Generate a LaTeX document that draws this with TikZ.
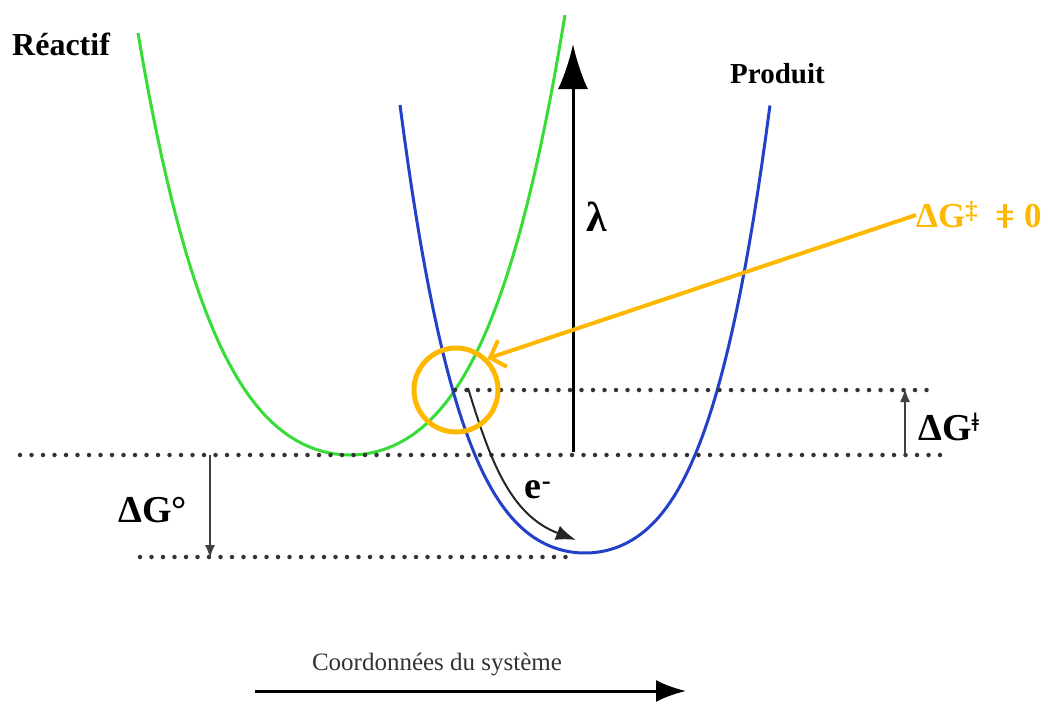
\documentclass[tikz,border=0pt]{standalone}
\usepackage{fontspec}
\setmainfont{Liberation Serif}
\usepackage{xcolor}
\usepackage{tikz}
\usetikzlibrary{arrows.meta,calc,positioning}

\definecolor{reactgreen}{RGB}{55,220,55}
\definecolor{prodblue}{RGB}{35,65,200}
\definecolor{barrorange}{RGB}{255,184,0}

% crossed equal sign, as printed
\newcommand{\barreq}{\ooalign{=\cr\hfil\rule{3.5pt}{24pt}\hfil\cr}}

\begin{document}
\begin{tikzpicture}[
    x=1pt, y=-1pt,
    lbl/.style={font=\fontsize{32}{36}\selectfont\bfseries, inner sep=0pt},
    biglbl/.style={font=\fontsize{38}{42}\selectfont\bfseries, inner sep=0pt},
    curve/.style={line width=3pt},
    level/.style={line width=4.5pt, line cap=round, dash pattern=on 0pt off 11.5pt, draw=black!80},
    thin arr/.style={-{Latex[length=13pt, width=10pt]}, line width=1.5pt, draw=black!75},
    big arr/.style={-{Latex[length=45pt, width=30pt]}, line width=3pt}
  ]
    \useasboundingbox (0,0) rectangle (1051,702);
    % energy curves
    \draw[curve, reactgreen] plot[domain=-2.12:2.15, samples=90]
      ({350+100*\x}, {455-47.6*\x*\x-10.3*\x*\x*\x*\x});
    \draw[curve, prodblue] plot[domain=-1.85:1.85, samples=90]
      ({585+100*\x}, {553-53.7*\x*\x-22.56*\x*\x*\x*\x});
    % levels
    \coordinate (top0) at (455,390);   \coordinate (top1) at (930,390);
    \coordinate (mid0) at (20,455);    \coordinate (mid1) at (940,455);
    \coordinate (low0) at (140,557);   \coordinate (low1) at (575,557);
    \draw[level] (top0) -- (top1);
    \draw[level] (mid0) -- (mid1);
    \draw[level] (low0) -- (low1);
    % labels
    \node[lbl, anchor=base west] (react) at (12,55) {Réactif};
    \node[lbl, font=\fontsize{29}{33}\selectfont\bfseries, anchor=base west] (prod) at (730,83) {Produit};
    % lambda
    \coordinate (lamb0) at (573,452);
    \coordinate (lamb1) at (573,44);
    \draw[big arr] (lamb0) -- (lamb1);
    \node[biglbl, font=\fontsize{42}{46}\selectfont\bfseries] (lam) at (597,217) {λ};
    % activation energy
    \coordinate (dga0) at (905,455);
    \coordinate (dga1) at (905,389);
    \draw[thin arr] (dga0) -- (dga1);
    \node[biglbl, anchor=west] (dga) at (918,427) {ΔG\textsuperscript{ǂ}};
    % free energy
    \coordinate (dgo0) at (210,455);
    \coordinate (dgo1) at (210,558);
    \draw[thin arr] (dgo0) -- (dgo1);
    \node[biglbl, anchor=west] (dgo) at (118,510) {ΔG°};
    % electron transfer
    \coordinate (el0) at (468,388);
    \coordinate (el1) at (576,540);
    \draw[-{Latex[length=20pt, width=15pt]}, line width=2pt, draw=black!85]
      (el0) .. controls (490,460) and (510,515) .. (el1);
    \node[biglbl] (el) at (538,490) {e\textsuperscript{-}};
    % crossing point
    \node[circle, draw=barrorange, line width=5pt, minimum size=84pt] (cross) at (456,390) {};
    \node[biglbl, font=\fontsize{35}{39}\selectfont\bfseries, text=barrorange, anchor=west] (nonzero) at (916,215) {ΔG\textsuperscript{‡}\hspace{17pt}\barreq\hspace{9pt}0};
    \draw[-{Straight Barb[length=13pt, width=28pt]}, line width=4pt, barrorange]
      (nonzero.west) -- (cross.north east);
    % axis
    \node[font=\fontsize{25}{29}\selectfont, text=black!80] (axis) at (437,664) {Coordonnées du système};
    \coordinate (ax0) at (255,691);
    \coordinate (ax1) at (686,691);
    \draw[-{Latex[length=30pt, width=22pt]}, line width=3pt] (ax0) -- (ax1);
  \end{tikzpicture}
\end{document}
